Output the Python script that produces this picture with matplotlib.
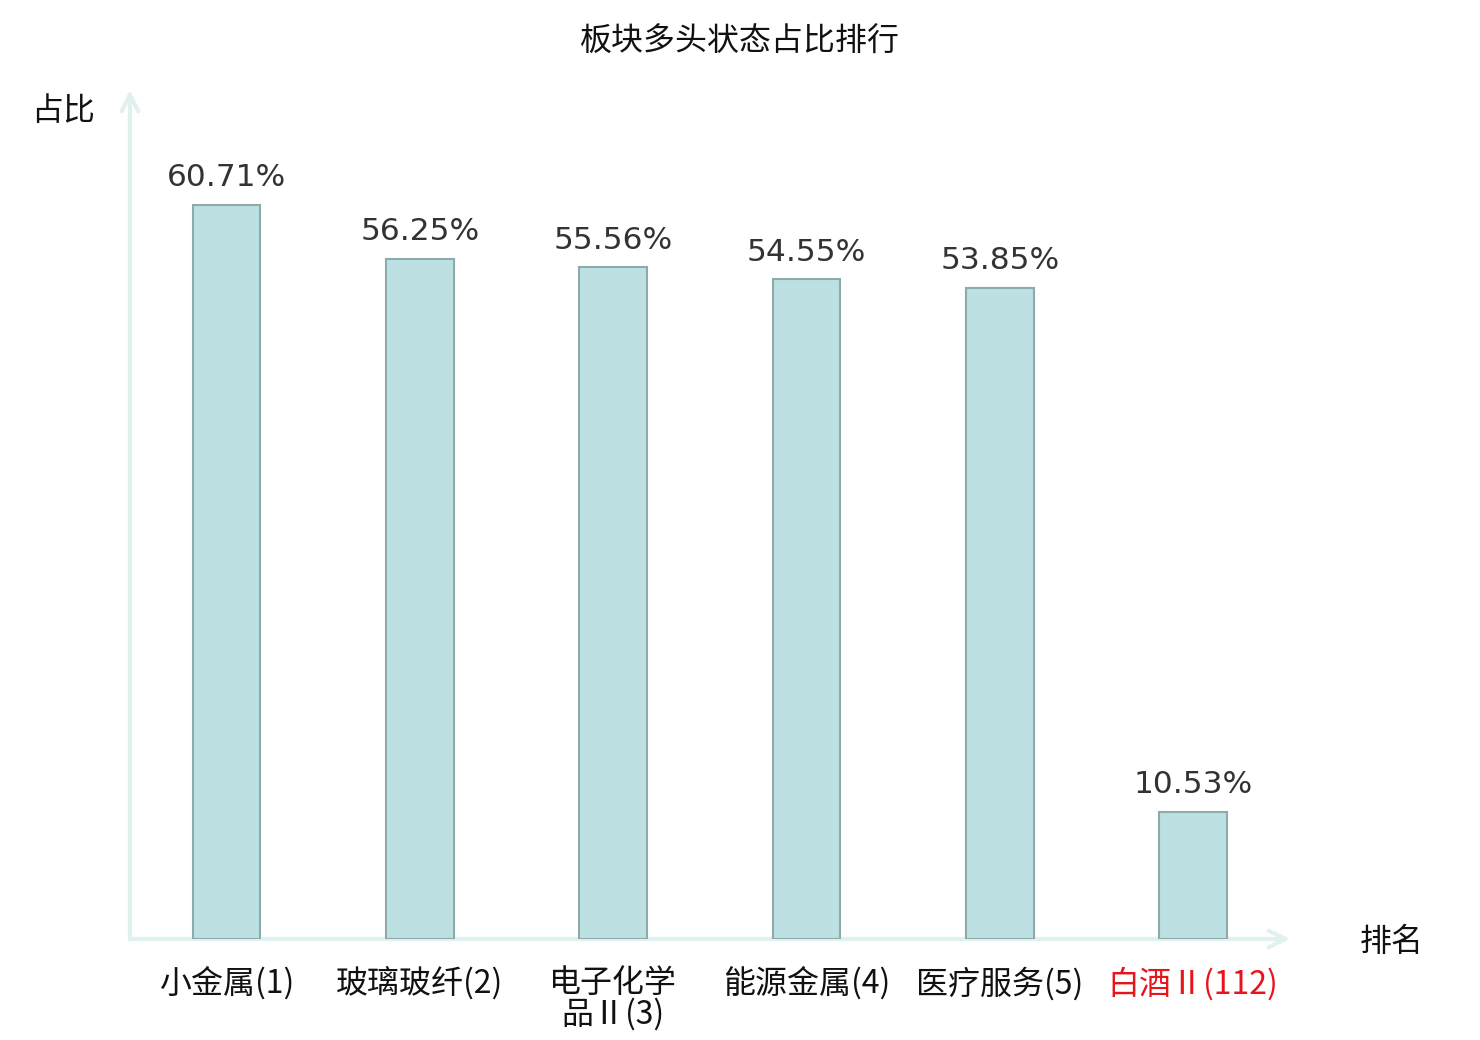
import matplotlib.pyplot as plt

plt.rcParams['font.family'] = ['Noto Sans CJK SC', 'DejaVu Sans']

# 数据
sectors = ['小金属(1)', '玻璃玻纤(2)', '电子化学\n品Ⅱ(3)', '能源金属(4)', '医疗服务(5)', '白酒Ⅱ(112)']
ratios = [60.71, 56.25, 55.56, 54.55, 53.85, 10.53]
label_colors = ['#111111'] * 5 + ['#e8141c']

axis_color = '#dff2ef'

fig = plt.figure(figsize=(14.8, 10.4), dpi=100)
ax = fig.add_axes([0.0878, 0.0971, 0.7838, 0.8164])

x = range(len(sectors))
bars = ax.bar(x, ratios, width=0.35, color='#bde1e3', edgecolor='#8eaaab', linewidth=1.5, zorder=3)

for xi, v in zip(x, ratios):
    ax.annotate(f'{v:.2f}%', (xi, v), textcoords='offset points', xytext=(0, 9),
                ha='center', va='bottom', fontsize=22.5, color='#333333', family='DejaVu Sans')

ax.set_xlim(-0.5, 5.5)
ax.set_ylim(0, 70.2)
ax.set_xticks(list(x))
ax.set_xticklabels(sectors, fontsize=23, linespacing=0.95)
for lbl, c in zip(ax.get_xticklabels(), label_colors):
    lbl.set_color(c)
ax.tick_params(axis='x', length=0, pad=20)
ax.set_yticks([])
for s in ax.spines.values():
    s.set_visible(False)

# 坐标轴箭头
arrow = dict(arrowstyle='->', color=axis_color, lw=3, mutation_scale=30, shrinkA=0, shrinkB=0)
ax.annotate('', xy=(1.0, 0), xytext=(0, 0), xycoords='axes fraction', arrowprops=arrow, zorder=2)
ax.annotate('', xy=(0, 1.0), xytext=(0, 0), xycoords='axes fraction', arrowprops=arrow, zorder=2)

fig.text(63 / 1480, 1 - 111 / 1040, '占比', ha='center', va='center', fontsize=23, color='#111111')
fig.text(1392 / 1480, 1 - 942 / 1040, '排名', ha='center', va='center', fontsize=23, color='#111111')
fig.text(0.5, 1 - 42 / 1040, '板块多头状态占比排行', ha='center', va='center', fontsize=23, color='#111111')

fig.savefig('out.png', dpi=100)
